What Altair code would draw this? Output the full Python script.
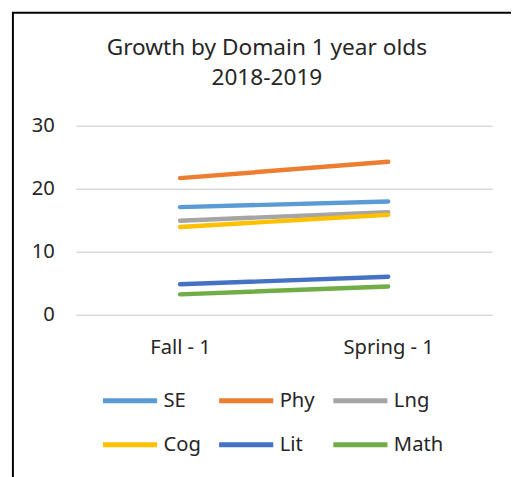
import altair as alt
import pandas as pd

domains = ["SE", "Phy", "Lng", "Cog", "Lit", "Math"]
periods = ["Fall - 1", "Spring - 1"]
fall = [17.1, 21.7, 14.95, 13.95, 4.85, 3.25]
spring = [18.0, 24.3, 16.3, 15.9, 6.05, 4.5]
colors = ["#5B9BD5", "#ED7D31", "#A5A5A5", "#FFC000", "#4472C4", "#70AD47"]
y_ticks = [0, 10, 20, 30]
title_lines = ["Growth by Domain 1 year olds", "2018-2019"]

rows = []
for d, f, s in zip(domains, fall, spring):
    rows.append({"Domain": d, "Period": periods[0], "Score": f})
    rows.append({"Domain": d, "Period": periods[1], "Score": s})
df = pd.DataFrame(rows)

FONT = "Noto Sans"
TXT = "#262626"
FS = 20.5

lines = alt.Chart(df).mark_line(strokeWidth=4.5, strokeCap="round").encode(
    x=alt.X("Period:N", sort=periods, title=None,
            axis=alt.Axis(labelAngle=0, domain=False, ticks=False, tickSize=0,
                          labelPadding=23, labelFontSize=FS, labelFont=FONT,
                          labelColor=TXT, grid=False)),
    y=alt.Y("Score:Q", title=None,
            scale=alt.Scale(domain=[0, 30], nice=False),
            axis=alt.Axis(values=y_ticks, domain=False, ticks=False, tickSize=0,
                          labelPadding=22, labelFontSize=FS, labelFont=FONT,
                          labelColor=TXT, grid=True, gridColor="#D9D9D9",
                          gridWidth=1.5)),
    color=alt.Color("Domain:N", sort=domains,
                    scale=alt.Scale(domain=domains, range=colors),
                    legend=alt.Legend(title=None, orient="none", legendX=25,
                                      legendY=249, columns=3, direction="horizontal",
                                      symbolType="stroke", symbolSize=3025,
                                      symbolStrokeWidth=5, labelFontSize=FS,
                                      labelFont=FONT, labelColor=TXT,
                                      labelOffset=4, columnPadding=8,
                                      rowPadding=4)),
)

one = pd.DataFrame({"a": [0]})
frame_left = alt.Chart(one).mark_rule(color="black", strokeWidth=2).encode(
    x=alt.value(-64), y=alt.value(-115), y2=alt.value(360))
frame_top = alt.Chart(one).mark_rule(color="black", strokeWidth=2).encode(
    x=alt.value(-65), x2=alt.value(450), y=alt.value(-115))
title1 = alt.Chart(one).mark_text(fontSize=23, font=FONT, color=TXT,
                                  baseline="middle", align="center").encode(
    x=alt.value(194), y=alt.value(-79), text=alt.value(title_lines[0]))
title2 = alt.Chart(one).mark_text(fontSize=23, font=FONT, color=TXT,
                                  baseline="middle", align="center").encode(
    x=alt.value(194), y=alt.value(-48), text=alt.value(title_lines[1]))

chart = alt.layer(lines, frame_left, frame_top, title1, title2).properties(
    width=423, height=192,
    autosize=alt.AutoSizeParams(type="none"),
    padding={"left": 69, "top": 116, "right": 19, "bottom": 161},
    background="white",
).configure_view(stroke=None)

chart.save("out.html", embed_options={"renderer": "svg", "actions": False})
